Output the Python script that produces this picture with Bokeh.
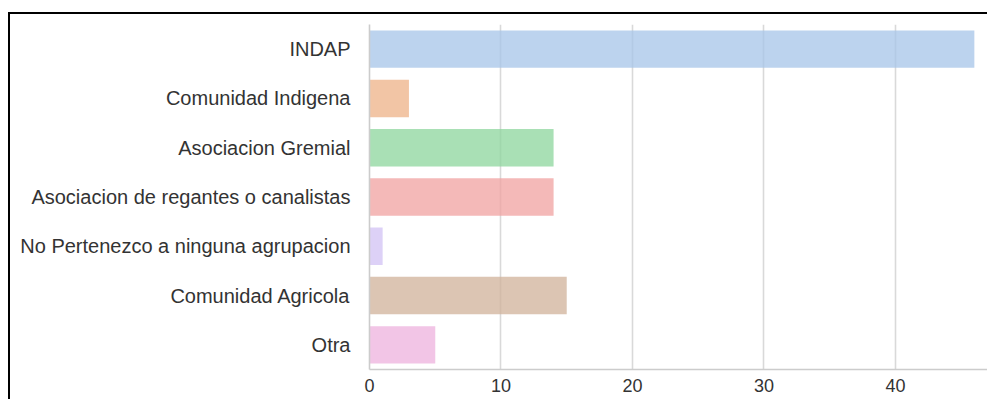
from bokeh.plotting import figure
from bokeh.models import FactorRange, Range1d, FixedTicker, ColumnDataSource
from bokeh.embed import file_html
from bokeh.resources import INLINE

categories = ["INDAP", "Comunidad Indigena", "Asociacion Gremial",
              "Asociacion de regantes o canalistas", "No Pertenezco a ninguna agrupacion",
              "Comunidad Agricola", "Otra"]
counts = [46, 3, 14, 14, 1, 15, 5]
colors = ["#a6c4e8", "#eeb287", "#8cd69c", "#f0a2a0", "#d2c2f4", "#d0b29a", "#eeb2de"]
x_ticks = [0, 10, 20, 30, 40]

src = ColumnDataSource(dict(cat=categories, val=counts, color=colors))

p = figure(width=987, height=399, output_backend="svg", toolbar_location=None,
           y_range=FactorRange(*reversed(categories)), x_range=Range1d(0, 47.0),
           min_border_left=369, min_border_right=0, min_border_top=24, min_border_bottom=30)
p.border_fill_color = None
p.background_fill_color = None
p.styles = {
    "background": "linear-gradient(#000,#000) 8px 12px / 2px 100% no-repeat, "
                  "linear-gradient(#000,#000) 8px 12px / 100% 2px no-repeat, #ffffff",
}

p.hbar(y="cat", right="val", left=0, height=0.76, fill_color="color", fill_alpha=0.75,
       line_color=None, source=src)

p.outline_line_color = None
p.ygrid.grid_line_color = None
p.xgrid.grid_line_color = "#d9d9d9"
p.xgrid.grid_line_width = 1.6
p.xaxis.ticker = FixedTicker(ticks=x_ticks)
for ax in (p.xaxis, p.yaxis):
    ax.axis_line_color = "#cccccc"
    ax.axis_line_width = 1.6
    ax.major_tick_line_color = None
    ax.minor_tick_line_color = None
    ax.major_tick_out = 0
    ax.major_tick_in = 0
    ax.major_label_text_font = "Liberation Sans"
    ax.major_label_text_color = "#333333"
p.xaxis.major_label_text_font_size = "18px"
p.yaxis.major_label_text_font_size = "20px"
p.xaxis.major_label_standoff = 9
p.yaxis.major_label_standoff = 19

open("out.html", "w").write(file_html(p, INLINE))
